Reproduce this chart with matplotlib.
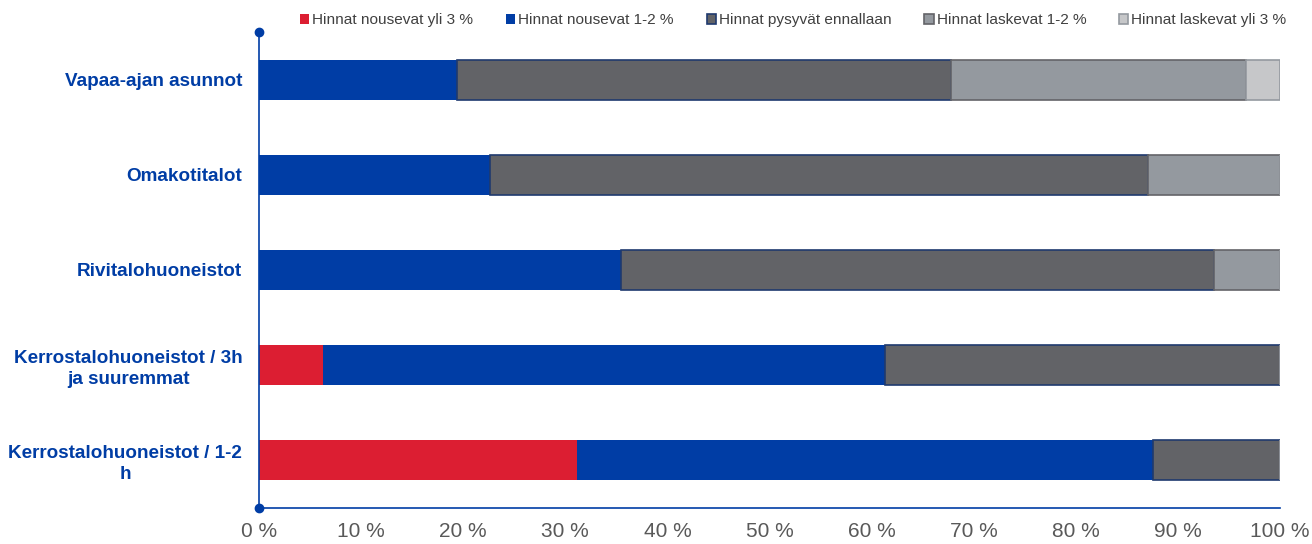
import matplotlib
matplotlib.use("Agg")
import matplotlib.pyplot as plt
import numpy as np

plt.rcParams['font.family'] = ['Liberation Sans', 'DejaVu Sans']

categories = ["Kerrostalohuoneistot / 1-2\nh",
              "Kerrostalohuoneistot / 3h\nja suuremmat",
              "Rivitalohuoneistot",
              "Omakotitalot",
              "Vapaa-ajan asunnot"]
series_names = ["Hinnat nousevat yli 3 %", "Hinnat nousevat 1-2 %",
                "Hinnat pysyvät ennallaan", "Hinnat laskevat 1-2 %",
                "Hinnat laskevat yli 3 %"]
up3 = [31.1, 6.3, 0.0, 0.0, 0.0]
up12 = [56.5, 55.0, 35.5, 22.6, 19.4]
same = [12.4, 38.7, 58.0, 64.5, 48.4]
down12 = [0.0, 0.0, 6.5, 12.9, 28.9]
down3 = [0.0, 0.0, 0.0, 0.0, 3.3]
xticks = [0, 10, 20, 30, 40, 50, 60, 70, 80, 90, 100]

fills = ["#DC1E32", "#003DA5", "#626367", "#94999F", "#C6C7C9"]
edges = ["#DC1E32", "#003DA5", "#1F3A6E", "#636468", "#94999F"]
lws = [0, 0, 1.2, 1.2, 1.2]

fig = plt.figure(figsize=(13.12, 5.44), dpi=100)
ax = fig.add_axes([259/1312, 1-508/544, (1280-259)/1312, 476/544])

y = np.arange(len(categories))
left = np.zeros(len(categories))
handles = []
for vals, name, fc, ec, lw in zip([up3, up12, same, down12, down3], series_names, fills, edges, lws):
    vals = np.array(vals)
    b = ax.barh(y, vals, left=left, height=0.42, color=fc, edgecolor=ec, linewidth=lw, label=name)
    handles.append(b)
    left += vals

ax.set_xlim(0, 100)
ax.set_ylim(-0.5, 4.5)
ax.set_xticks(xticks)
ax.set_xticklabels([f"{t} %" for t in xticks], fontsize=15, color="#595959")
ax.set_yticks(y)
ax.set_yticklabels(categories, fontsize=13.6, fontweight='bold', color="#003DA5",
                   multialignment='center', linespacing=1.3)
ax.tick_params(axis='both', length=0)
ax.tick_params(axis='x', pad=10)
ax.tick_params(axis='y', pad=12)

for s in ['top', 'right']:
    ax.spines[s].set_visible(False)
ax.spines['left'].set_color("#003DA5")
ax.spines['bottom'].set_color("#003DA5")
ax.spines['left'].set_linewidth(1.2)
ax.spines['bottom'].set_linewidth(1.2)
ax.plot([0, 0], [0, 1], transform=ax.transAxes, ls='none', marker='o', ms=6,
        color="#003DA5", clip_on=False, zorder=5)

leg = fig.legend(handles=handles, loc='upper left', bbox_to_anchor=(287/1312, 1.0),
                 ncol=5, frameon=False, fontsize=11.1, handlelength=0.6,
                 handleheight=0.6, handletextpad=0.2, columnspacing=2.12,
                 labelcolor="#404040", borderaxespad=0.45)

fig.savefig("out.png", dpi=100)
